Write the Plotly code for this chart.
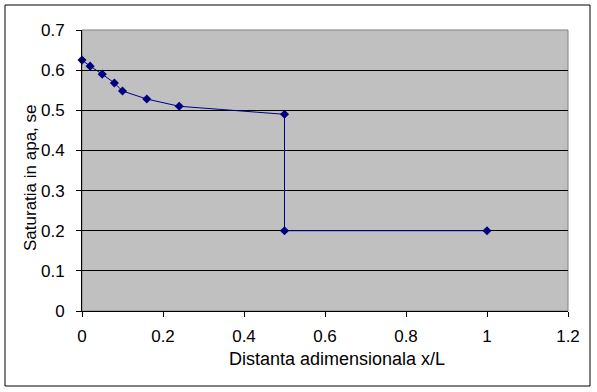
import plotly.graph_objects as go

x_vals = [0, 0.02, 0.05, 0.08, 0.1, 0.16, 0.24, 0.5, 0.5, 1.0]
y_vals = [0.625, 0.61, 0.59, 0.568, 0.548, 0.528, 0.51, 0.49, 0.2, 0.2]
x_ticks = [0, 0.2, 0.4, 0.6, 0.8, 1, 1.2]
x_tick_labels = ["0", "0.2", "0.4", "0.6", "0.8", "1", "1.2"]
y_ticks = [0, 0.1, 0.2, 0.3, 0.4, 0.5, 0.6, 0.7]
y_tick_labels = ["0", "0.1", "0.2", "0.3", "0.4", "0.5", "0.6", "0.7"]
x_title = "Distanta adimensionala x/L"
y_title = "Saturatia in apa, se"

fig = go.Figure()
fig.add_trace(go.Scatter(
    x=x_vals, y=y_vals, mode="lines+markers",
    line=dict(color="#000080", width=1),
    marker=dict(symbol="diamond", size=7, color="#000080"),
    showlegend=False, cliponaxis=False,
))

L, R, T, B = 82, 29, 30, 81
W, H = 597, 392
pw, ph = W - L - R, H - T - B

def px(x):
    return (x - L) / pw

def py(y):
    return (H - B - y) / ph

fnt = "Liberation Sans, Arial, sans-serif"
fig.update_layout(
    width=W, height=H,
    margin=dict(l=L, r=R, t=T, b=B),
    paper_bgcolor="white", plot_bgcolor="#C0C0C0",
    font=dict(family=fnt, size=15, color="black"),
    xaxis=dict(range=[0, 1.2], tickvals=x_ticks, ticktext=x_tick_labels,
               showgrid=False, zeroline=False, showline=True, linecolor="black",
               linewidth=1, ticks="outside", ticklen=5, tickcolor="black",
               ticklabelstandoff=5, tickfont=dict(family=fnt, size=17, color="black")),
    yaxis=dict(range=[0, 0.7], tickvals=y_ticks, ticktext=y_tick_labels,
               showgrid=True, gridcolor="black", gridwidth=1, zeroline=False,
               showline=True, linecolor="black", linewidth=1,
               ticks="outside", ticklen=5, tickcolor="black",
               ticklabelstandoff=8, tickfont=dict(family=fnt, size=17, color="black")),
    annotations=[
        dict(text=x_title, xref="paper", yref="paper", x=px(337), y=py(359),
             xanchor="center", yanchor="middle", showarrow=False,
             font=dict(family=fnt, size=18, color="black")),
        dict(text=y_title, xref="paper", yref="paper", x=px(30), y=py(178),
             xanchor="center", yanchor="middle", showarrow=False,
             textangle=-90, font=dict(family=fnt, size=17, color="black")),
    ],
    shapes=[
        dict(type="rect", xref="paper", yref="paper", x0=0, x1=1, y0=0, y1=1,
             line=dict(color="#808080", width=1), layer="below"),
        dict(type="rect", xref="paper", yref="paper",
             x0=px(5), x1=px(590), y0=py(386), y1=py(5),
             line=dict(color="black", width=1)),
    ],
)

fig.write_html("out.html")
